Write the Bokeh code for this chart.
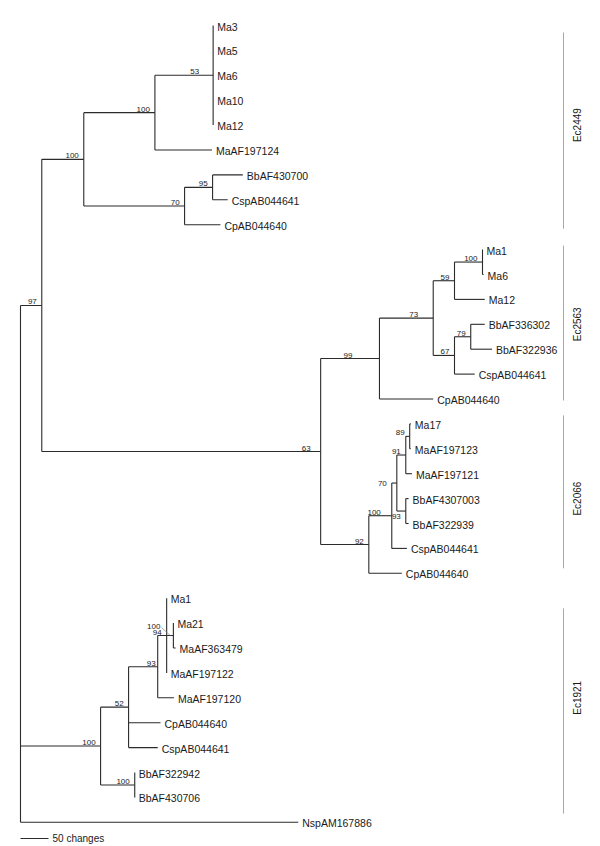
import math
from bokeh.plotting import figure
from bokeh.models import ColumnDataSource, Range1d
from bokeh.core.properties import value
from bokeh.embed import file_html
from bokeh.resources import INLINE

# ---------------- data ----------------
leaf_names = ["Ma3", "Ma5", "Ma6", "Ma10", "Ma12", "MaAF197124", "BbAF430700", "CspAB044641", "CpAB044640",
              "Ma1", "Ma6", "Ma12", "BbAF336302", "BbAF322936", "CspAB044641", "CpAB044640",
              "Ma17", "MaAF197123", "MaAF197121", "BbAF4307003", "BbAF322939", "CspAB044641", "CpAB044640",
              "Ma1", "Ma21", "MaAF363479", "MaAF197122", "MaAF197120", "CpAB044640", "CspAB044641",
              "BbAF322942", "BbAF430706", "NspAM167886"]
leaf_parent = ["n53", "n53", "n53", "n53", "n53", "n100b", "n95", "n95", "n70a",
               "n100c", "n100c", "n59", "n79", "n79", "n67", "n99",
               "n89", "n89", "n91", "n93a", "n93a", "n100d", "n92",
               "n94", "n100f", "n100f", "n94", "n93b", "n52", "n52",
               "n100g", "n100g", "root"]
leaf_length = [0, 0, 0, 0, 0, 102, 54, 27, 64,
               0, 2, 54, 25, 38, 36, 96,
               2, 2, 11, 5, 5, 27, 59,
               0, 0, 4, 0, 29, 57, 52,
               0, 0, 496]

internal_names = ["root", "n97", "n100a", "n100b", "n53", "n70a", "n95", "n63", "n99", "n73", "n59",
                  "n100c", "n67", "n79", "n92", "n100d", "n70b", "n91", "n89", "n93a", "n100e",
                  "n52", "n93b", "n94", "n100f", "n100g"]
internal_parent = [None, "root", "n97", "n100a", "n100b", "n100a", "n70a", "n97", "n63", "n99", "n73",
                   "n59", "n73", "n67", "n63", "n92", "n100d", "n70b", "n91", "n70b", "root",
                   "n100e", "n52", "n93b", "n94", "n100e"]
internal_length = [0, 38, 75, 127, 104, 180, 50, 498, 105, 96, 38,
                   50, 38, 29, 86, 41, 9, 16, 7, 16, 143,
                   50, 52, 16, 12, 61]
internal_support = [None, 97, 100, 100, 53, 70, 95, 63, 99, 73, 59,
                    100, 67, 79, 92, 100, 70, 91, 89, 93, 100,
                    52, 93, 94, 100, 100]

clade_names = ["Ec2449", "Ec2563", "Ec2066", "Ec1921"]
clade_first_leaf = [0, 9, 16, 23]
clade_last_leaf = [8, 15, 22, 31]
clade_bar_start = [0.28, 8.84, 15.66, 23.41]
clade_bar_end = [8.16, 15.06, 21.8, 31.65]

scale_bar_changes = 50
scale_bar_label = "50 changes"

# ---------------- layout / style ----------------
W, H = 600, 846
PX = 0.56            # pixels per change
ROOT_PX = 20         # root x in figure pixels
ROW = 24.9           # pixels per leaf row
TOP_PX = 25          # first leaf y in figure pixels
FONT = value("Liberation Sans")
LINE = "#2b2b2b"
TXT = "#1a1a1a"

# ---------------- tree geometry ----------------
x_of = {}
for n, par, ln in zip(internal_names, internal_parent, internal_length):
    x_of[n] = 0.0 if par is None else x_of[par] + ln

children = {n: [] for n in internal_names}
for i, par in enumerate(leaf_parent):
    children[par].append(("leaf", i))
for n, par in zip(internal_names, internal_parent):
    if par is not None:
        children[par].append(("node", n))

y_of = {}
def node_y(n):
    if n in y_of:
        return y_of[n]
    ys = []
    for kind, c in children[n]:
        ys.append(float(c) if kind == "leaf" else node_y(c))
    y_of[n] = (min(ys) + max(ys)) / 2
    return y_of[n]
for n in internal_names:
    node_y(n)

def child_span(n):
    ys = [float(c) if k == "leaf" else y_of[c] for k, c in children[n]]
    return min(ys), max(ys)

leaf_x = [x_of[par] + ln for par, ln in zip(leaf_parent, leaf_length)]
leaf_y = [float(i) for i in range(len(leaf_names))]

hx0, hx1, hy = [], [], []
for i in range(len(leaf_names)):
    hx0.append(x_of[leaf_parent[i]]); hx1.append(leaf_x[i]); hy.append(leaf_y[i])
for n, par in zip(internal_names, internal_parent):
    if par is not None:
        hx0.append(x_of[par]); hx1.append(x_of[n]); hy.append(y_of[n])

vx, vy0, vy1 = [], [], []
for n in internal_names:
    a, b = child_span(n)
    vx.append(x_of[n]); vy0.append(a); vy1.append(b)

# ---------------- figure ----------------
x_start = -ROOT_PX / PX
x_end = (W - ROOT_PX) / PX
y_top = -TOP_PX / ROW
y_bottom = (H - TOP_PX) / ROW

p = figure(width=W, height=H, x_range=Range1d(x_start, x_end),
           y_range=Range1d(y_bottom, y_top), toolbar_location=None,
           output_backend="svg", x_axis_type=None, y_axis_type=None,
           min_border=0)
p.outline_line_color = None
p.background_fill_color = "white"
p.border_fill_color = "white"

p.segment(x0="x0", x1="x1", y0="y", y1="y",
          source=ColumnDataSource(dict(x0=hx0, x1=hx1, y=hy)),
          line_color=LINE, line_width=1.1)
p.segment(x0="x", x1="x", y0="y0", y1="y1",
          source=ColumnDataSource(dict(x=vx, y0=vy0, y1=vy1)),
          line_color=LINE, line_width=1.1)

# leaf labels
p.text(x="x", y="y", text="t",
       source=ColumnDataSource(dict(x=leaf_x, y=leaf_y, t=leaf_names)),
       text_font=FONT, text_font_size="10.5px", text_color=TXT,
       text_baseline="middle", text_align="left", x_offset=4, y_offset=1)

# bootstrap labels
dx_nudge = {"n53": -14, "n99": -27, "n73": -15, "n63": -10, "n100d": -11,
            "n70b": -10, "n100f": -13, "n93b": -2}
above = dict(x=[], y=[], t=[], dx=[])
mid = dict(x=[], y=[], t=[], dx=[])
below = dict(x=[], y=[], t=[], dx=[])
for n, s in zip(internal_names, internal_support):
    if s is None:
        continue
    dx = dx_nudge.get(n, -5)
    if n == "n70b":
        tgt = mid
    elif n == "n93a":
        tgt = below
    else:
        tgt = above
    tgt["x"].append(x_of[n]); tgt["y"].append(y_of[n]); tgt["t"].append(str(s)); tgt["dx"].append(dx)

lead_x, lead_y = x_of["n100f"], y_of["n100f"]
above["dy"] = [-7 if (xx == lead_x and yy == lead_y) else -1 for xx, yy in zip(above["x"], above["y"])]

p.text(x="x", y="y", text="t", source=ColumnDataSource(above),
       text_font=FONT, text_font_size="8px", text_color=TXT,
       text_align="right", text_baseline="bottom", x_offset="dx", y_offset="dy")
p.text(x="x", y="y", text="t", source=ColumnDataSource(mid),
       text_font=FONT, text_font_size="8px", text_color=TXT,
       text_align="right", text_baseline="middle", x_offset="dx", y_offset=0)
p.text(x="x", y="y", text="t", source=ColumnDataSource(below),
       text_font=FONT, text_font_size="8px", text_color=TXT,
       text_align="right", text_baseline="top", x_offset="dx", y_offset=3)

# leader line for the crowded label
p.segment(x0=[lead_x - 12 / PX], y0=[lead_y - 8 / ROW], x1=[lead_x - 3 / PX], y1=[lead_y],
          line_color="#888888", line_width=0.7)

# clade bars and labels
bar_x = (563 - ROOT_PX) / PX
p.segment(x0=[bar_x] * 4, x1=[bar_x] * 4, y0=clade_bar_start, y1=clade_bar_end,
          line_color="#a8a8a8", line_width=1)
clade_mid = [(a + b) / 2 for a, b in zip(clade_first_leaf, clade_last_leaf)]
p.text(x=[bar_x] * 4, y=clade_mid, text=clade_names, angle=math.pi / 2,
       text_font=FONT, text_font_size="10px", text_color=TXT,
       text_align="center", text_baseline="middle", x_offset=14)

# scale bar
sb_y = len(leaf_names) - 1 + 0.65
p.segment(x0=[0], x1=[scale_bar_changes], y0=[sb_y], y1=[sb_y], line_color=LINE, line_width=1.1)
p.text(x=[scale_bar_changes], y=[sb_y], text=[scale_bar_label],
       text_font=FONT, text_font_size="10px", text_color=TXT,
       text_align="left", text_baseline="middle", x_offset=4)

open("out.html", "w").write(file_html(p, INLINE))
